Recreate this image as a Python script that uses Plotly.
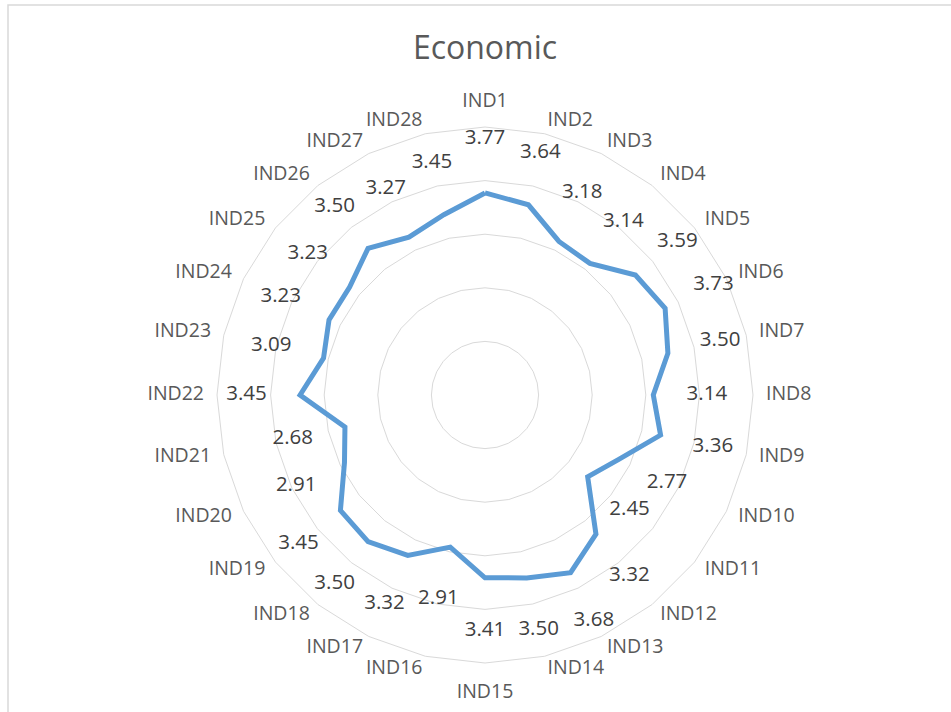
import plotly.graph_objects as go

categories = [f"IND{i}" for i in range(1, 29)]
values = [3.77, 3.64, 3.18, 3.14, 3.59, 3.73, 3.50, 3.14, 3.36, 2.77,
          2.45, 3.32, 3.68, 3.50, 3.41, 2.91, 3.32, 3.50, 3.45, 2.91,
          2.68, 3.45, 3.09, 3.23, 3.23, 3.50, 3.27, 3.45]
grid_vals = [1, 2, 3, 4, 5]
label_offset = 1.0

W, H = 951, 712
cx, cy, R = 485, 395, 268          # pixel radius of the outer ring (value 5)
r_max = 5.0
r_axis = 5.6                       # axis extends past outer ring so labels can be drawn
px_per_unit = R / r_max
R_dom = r_axis * px_per_unit

# category label placement (Excel-like: anchored just outside the outer ring)
n = len(categories)
cat_r, cat_pos = [], []
for i in range(n):
    ang = 360.0 * i / n
    base = r_max + 13 / px_per_unit
    if abs(ang) < 1e-6:
        cat_pos.append("top center"); cat_r.append(base + 2.5 / px_per_unit)
    elif abs(ang - 180) < 1e-6:
        cat_pos.append("bottom center"); cat_r.append(base + 7 / px_per_unit)
    elif ang < 180:
        cat_pos.append("middle right"); cat_r.append(base)
    else:
        cat_pos.append("middle left"); cat_r.append(base)

fig = go.Figure()
fig.add_trace(go.Scatterpolar(
    r=values + values[:1], theta=categories + categories[:1],
    mode="lines", line=dict(color="#5B9BD5", width=5),
    hoverinfo="skip", showlegend=False))
fig.add_trace(go.Scatterpolar(
    r=[v + label_offset for v in values], theta=categories,
    mode="text", text=[f"{v:.2f}" for v in values],
    textfont=dict(family="Open Sans", size=20.5, color="#404040"),
    textposition="middle center", showlegend=False, hoverinfo="skip",
    cliponaxis=False))
fig.add_trace(go.Scatterpolar(
    r=cat_r, theta=categories,
    mode="text", text=categories,
    textfont=dict(family="Open Sans", size=19.5, color="#595959"),
    textposition=cat_pos, showlegend=False, hoverinfo="skip",
    cliponaxis=False))

fig.update_layout(
    width=W, height=H,
    margin=dict(l=0, r=0, t=0, b=0),
    paper_bgcolor="white",
    title=dict(text="Economic", x=0.51, xanchor="center", y=1 - 48 / H, yanchor="middle",
               font=dict(family="Open Sans", size=32, color="#595959")),
    polar=dict(
        domain=dict(x=[(cx - R_dom) / W, (cx + R_dom) / W],
                    y=[(H - cy - R_dom) / H, (H - cy + R_dom) / H]),
        bgcolor="rgba(0,0,0,0)",
        gridshape="linear",
        radialaxis=dict(range=[0, r_axis], tickvals=grid_vals, showticklabels=False, ticks="",
                        showline=False, gridcolor="#D9D9D9", gridwidth=1.3),
        angularaxis=dict(direction="clockwise", rotation=90, showgrid=False,
                         showline=False, ticks="", showticklabels=False),
    ),
    shapes=[dict(type="rect", xref="paper", yref="paper",
                 x0=8 / W, y0=-0.05, x1=1.05, y1=1 - 5 / H,
                 line=dict(color="#D9D9D9", width=1.5), fillcolor="rgba(0,0,0,0)")],
)
fig.write_html("out.html")
